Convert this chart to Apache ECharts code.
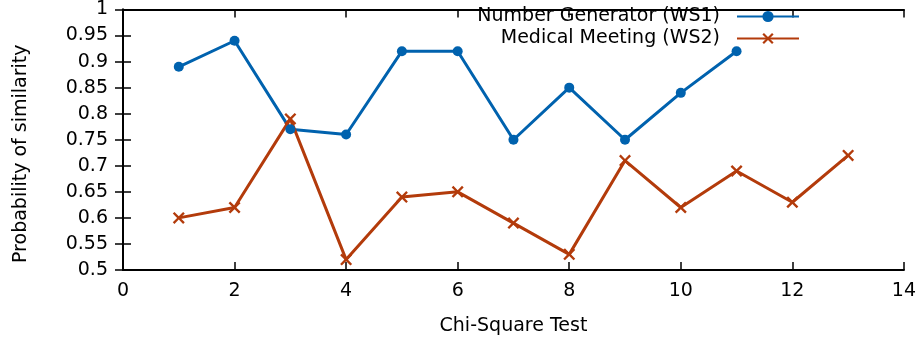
<!DOCTYPE html>
<html>
<head>
<meta charset="utf-8">
<script src="https://cdn.jsdelivr.net/npm/echarts@6/dist/echarts.min.js"></script>
<style>
  html, body { margin: 0; padding: 0; background: #fff; }
  #chart { width: 919px; height: 342px; }
</style>
</head>
<body>
<div id="chart"></div>
<script>
// chi-square test index
var testsWS1 = [1, 2, 3, 4, 5, 6, 7, 8, 9, 10, 11];
var valuesWS1 = [0.89, 0.94, 0.77, 0.76, 0.92, 0.92, 0.75, 0.85, 0.75, 0.84, 0.92];
var testsWS2 = [1, 2, 3, 4, 5, 6, 7, 8, 9, 10, 11, 12, 13];
var valuesWS2 = [0.60, 0.62, 0.79, 0.52, 0.64, 0.65, 0.59, 0.53, 0.71, 0.62, 0.69, 0.63, 0.72];

var FONT = "DejaVu Sans";
var crossPath = "path://M0,1.4L1.4,0L5,3.6L8.6,0L10,1.4L6.4,5L10,8.6L8.6,10L5,6.4L1.4,10L0,8.6L3.6,5Z";

function pairs(xs, ys) {
  return xs.map(function (x, i) { return [x, ys[i]]; });
}

var chart = echarts.init(document.getElementById("chart"));

var axisLine = { show: true, lineStyle: { color: "#000", width: 2 } };
var tick = { show: true, inside: true, length: 8, lineStyle: { color: "#000", width: 1.5 } };

var option = {
  animation: false,
  grid: { left: 123, right: 14, top: 5, bottom: 72 },
  legend: {
    right: 114,
    top: 2,
    orient: "vertical",
    align: "right",
    itemWidth: 62,
    itemHeight: 14,
    itemGap: 3,
    textStyle: { fontFamily: FONT, fontSize: 19, color: "#000", padding: [0, 12, 0, 0] },
    data: ["Number Generator (WS1)", "Medical Meeting (WS2)"]
  },
  xAxis: [
    {
      type: "value",
      min: 0, max: 14, interval: 2,
      name: "Chi-Square Test",
      nameLocation: "middle",
      nameGap: 47,
      nameTextStyle: { fontFamily: FONT, fontSize: 19, color: "#000" },
      axisLine: axisLine,
      axisTick: tick,
      axisLabel: { fontFamily: FONT, fontSize: 19, color: "#000", margin: 12 },
      splitLine: { show: false }
    },
    {
      type: "value", position: "top",
      min: 0, max: 14, interval: 2,
      axisLine: axisLine,
      axisTick: tick,
      axisLabel: { show: false },
      splitLine: { show: false }
    }
  ],
  yAxis: [
    {
      type: "value",
      min: 0.5, max: 1, interval: 0.05,
      name: "Probability of similarity",
      nameLocation: "middle",
      nameGap: 92,
      nameTextStyle: { fontFamily: FONT, fontSize: 19, color: "#000", padding: [0, 28, 0, 0] },
      axisLine: axisLine,
      axisTick: tick,
      axisLabel: { fontFamily: FONT, fontSize: 19, color: "#000", margin: 15 },
      splitLine: { show: false }
    },
    {
      type: "value", position: "right",
      min: 0.5, max: 1, interval: 0.05,
      axisLine: axisLine,
      axisTick: tick,
      axisLabel: { show: false },
      splitLine: { show: false }
    }
  ],
  series: [
    {
      name: "Number Generator (WS1)",
      type: "line",
      data: pairs(testsWS1, valuesWS1),
      symbol: "circle",
      symbolSize: 10,
      color: "#0062ae",
      lineStyle: { width: 3 },
      itemStyle: { color: "#0062ae" }
    },
    {
      name: "Medical Meeting (WS2)",
      type: "line",
      data: pairs(testsWS2, valuesWS2),
      symbol: crossPath,
      symbolSize: 12,
      color: "#b33b0b",
      lineStyle: { width: 3 },
      itemStyle: { color: "#b33b0b" }
    }
  ]
};

chart.setOption(option);
</script>
</body>
</html>
